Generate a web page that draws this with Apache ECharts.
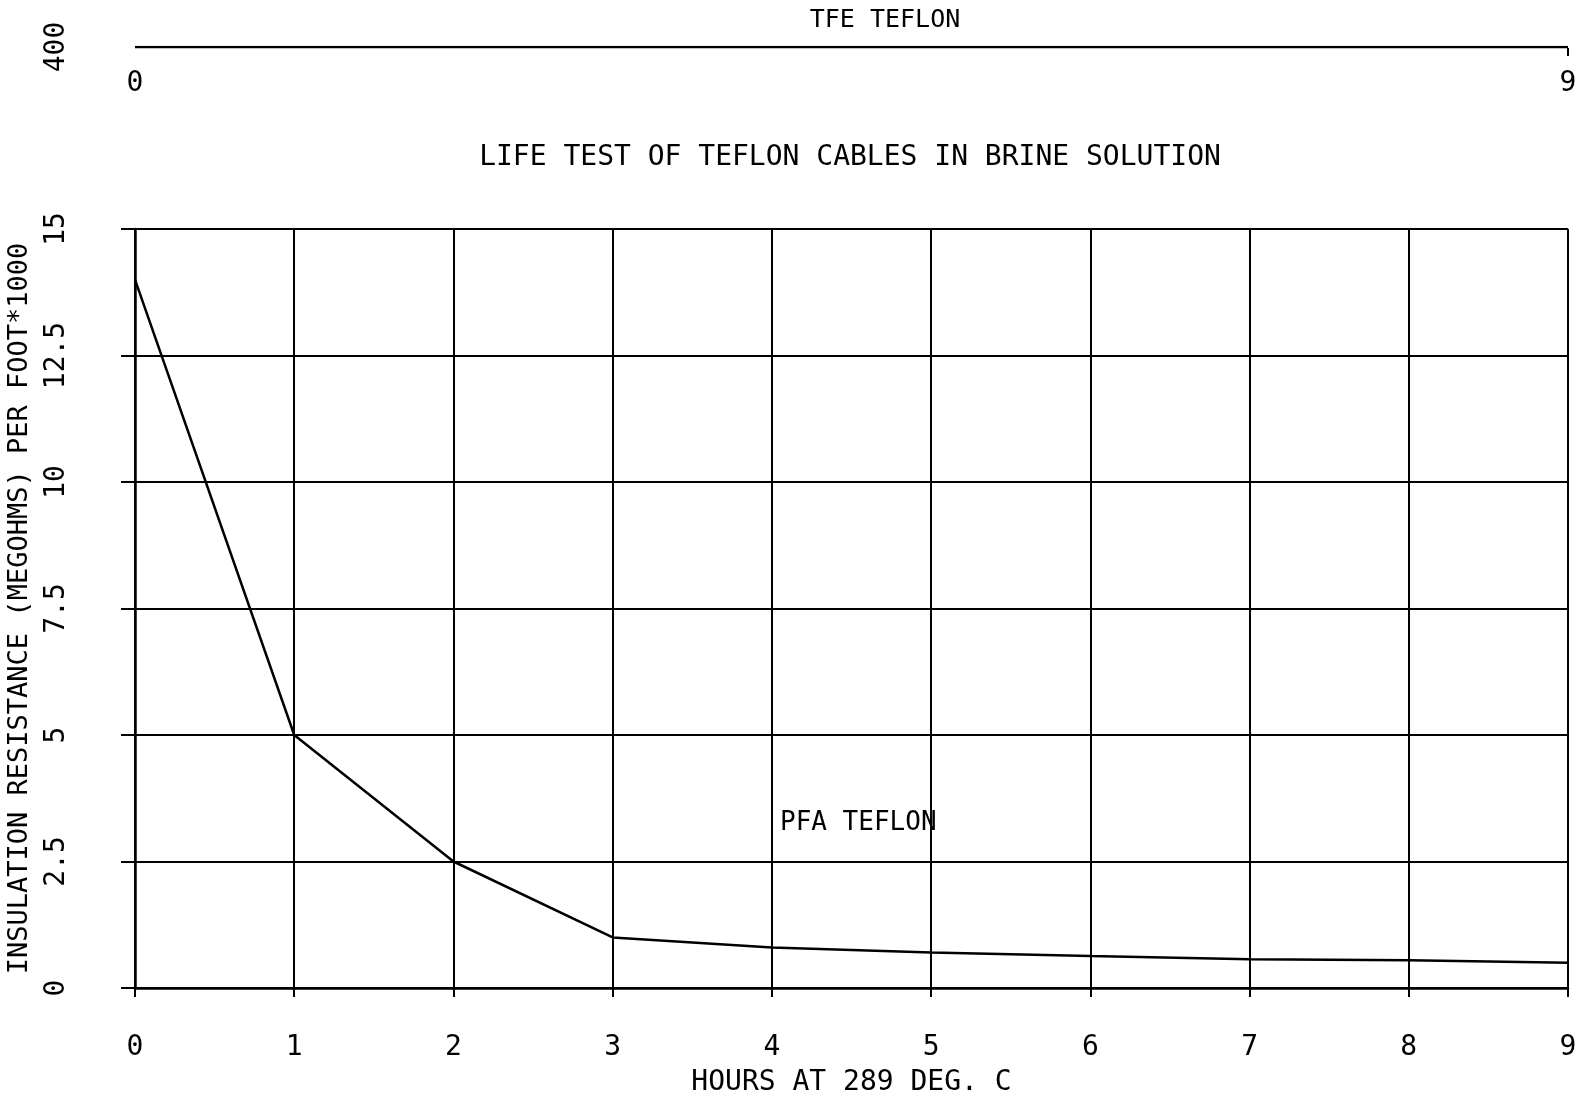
<!DOCTYPE html>
<html>
<head>
<meta charset="utf-8">
<script src="https://cdn.jsdelivr.net/npm/echarts@6/dist/echarts.min.js"></script>
<style>html,body{margin:0;padding:0;background:#fff}#c{width:1581px;height:1101px}</style>
</head>
<body>
<div id="c"></div>
<script>
const hours = [0, 1, 2, 3, 4, 5, 6, 7, 8, 9];
const pfaValues = [14.0, 5.0, 2.5, 1.0, 0.8, 0.7, 0.63, 0.57, 0.55, 0.5];
const tfeValues = [400, 400, 400, 400, 400, 400, 400, 400, 400, 400];
const yTickLabels = ['0', '2.5', '5', '7.5', '10', '12.5', '15'];
const topYLabel = '400';
const mainTitle = 'LIFE TEST OF TEFLON CABLES IN BRINE SOLUTION';
const tfeLabel = 'TFE TEFLON';
const pfaLabel = 'PFA TEFLON';
const xName = 'HOURS AT 289 DEG. C';
const yName = 'INSULATION RESISTANCE (MEGOHMS) PER FOOT*1000';

const FONT = 'DejaVu Sans Mono';
const chart = echarts.init(document.getElementById('c'), null, {renderer: 'canvas'});
const txt = {color: '#000', fontFamily: FONT, fontSize: 28};

chart.setOption({
  backgroundColor: '#fff',
  animation: false,
  title: [
    {text: tfeLabel, left: 880, top: 3, textAlign: 'center', textStyle: Object.assign({}, txt, {fontWeight: 'normal', fontSize: 25})},
    {text: mainTitle, left: 845, top: 139, textAlign: 'center', textStyle: Object.assign({}, txt, {fontWeight: 'normal'})}
  ],
  graphic: [
    {type: 'text', left: 780, top: 810, style: {text: pfaLabel, fill: '#000', font: '26px "DejaVu Sans Mono"'}}
  ],
  grid: [
    {left: 135, right: 13, top: 229, bottom: 113, containLabel: false, outerBoundsMode: 'none'},
    {left: 135, right: 13, top: 47, height: 1, containLabel: false, outerBoundsMode: 'none'}
  ],
  xAxis: [
    {
      gridIndex: 0, type: 'value', min: 0, max: 9, interval: 1,
      name: xName, nameLocation: 'middle', nameGap: 81, nameTextStyle: txt,
      axisLine: {show: true, lineStyle: {color: '#000', width: 2.5}},
      axisTick: {show: true, length: 9, lineStyle: {color: '#000', width: 2}},
      axisLabel: Object.assign({margin: 46, formatter: v => String(hours[Math.round(v)])}, txt),
      splitLine: {show: true, lineStyle: {color: '#000', width: 2}}
    },
    {
      gridIndex: 1, type: 'value', min: 0, max: 9, interval: 9,
      axisLine: {show: false},
      axisTick: {show: true, customValues: [9], length: 8, lineStyle: {color: '#000', width: 2}},
      axisLabel: Object.assign({margin: 22}, txt),
      splitLine: {show: false}
    }
  ],
  yAxis: [
    {
      gridIndex: 0, type: 'value', min: 0, max: 15, interval: 2.5,
      name: yName, nameLocation: 'middle', nameGap: 102, nameRotate: 90, nameTextStyle: Object.assign({}, txt, {fontSize: 27}),
      axisLine: {show: true, lineStyle: {color: '#000', width: 2.5}},
      axisTick: {show: true, length: 14, lineStyle: {color: '#000', width: 2}},
      axisLabel: Object.assign({margin: 64, rotate: 90, formatter: v => yTickLabels[Math.round(v / 2.5)]}, txt),
      splitLine: {show: true, lineStyle: {color: '#000', width: 2}}
    },
    {
      gridIndex: 1, type: 'value', min: 0, max: 400, interval: 400,
      axisLine: {show: false}, axisTick: {show: false},
      axisLabel: Object.assign({margin: 64, rotate: 90, formatter: v => v === 400 ? topYLabel : ''}, txt),
      splitLine: {show: false}
    }
  ],
  series: [
    {
      type: 'line', xAxisIndex: 0, yAxisIndex: 0,
      data: hours.map((h, i) => [h, pfaValues[i]]),
      showSymbol: false, symbol: 'none',
      lineStyle: {color: '#000', width: 2.5}
    },
    {
      type: 'line', xAxisIndex: 1, yAxisIndex: 1,
      data: hours.map((h, i) => [h, tfeValues[i]]),
      showSymbol: false, symbol: 'none',
      lineStyle: {color: '#000', width: 2.5}
    }
  ]
});
</script>
</body>
</html>
